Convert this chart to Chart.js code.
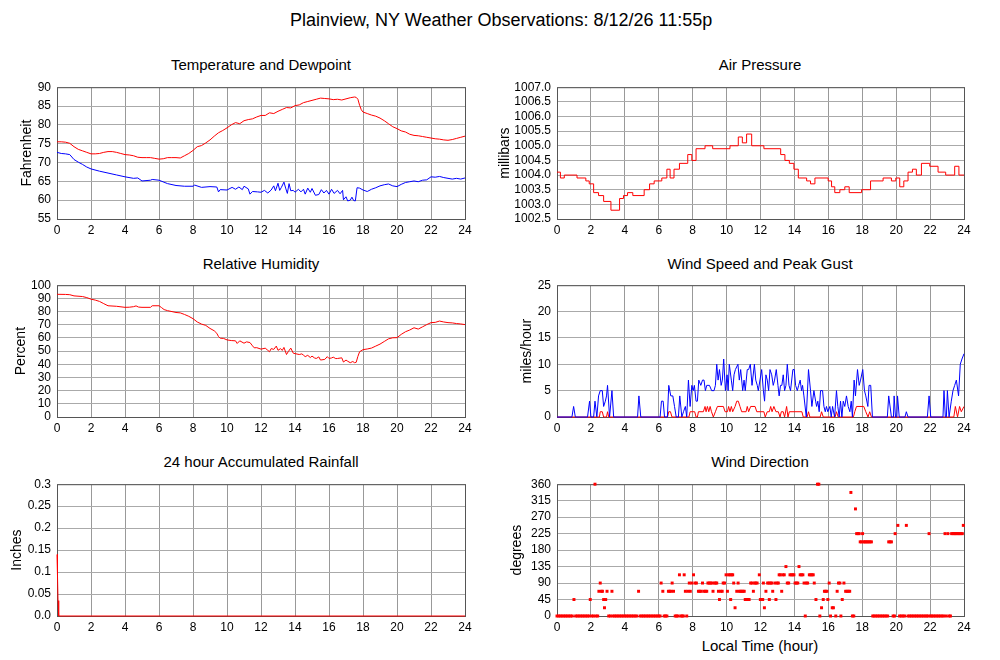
<!DOCTYPE html>
<html lang="en">
<head>
<meta charset="utf-8">
<title>Plainview, NY Weather Observations</title>
<script src="https://cdn.jsdelivr.net/npm/chart.js@4.4.1/dist/chart.umd.min.js"></script>
<style>
  body { margin: 0; background: #fff; font-family: 'Liberation Sans', Arial, sans-serif; color: #000; }
  #page { position: relative; width: 1000px; height: 660px; }
  canvas { position: absolute; }
  .ttl { position: absolute; width: 420px; text-align: center; font-size: 15px; line-height: 20px; white-space: nowrap; }
</style>
</head>
<body>
<div id="page">
  <div class="ttl" style="left:290px; width:420px; top:9px; font-size:18px; line-height:22px;">Plainview, NY Weather Observations: 8/12/26 11:55p</div>

  <div class="ttl" style="left:51px; top:55px;">Temperature and Dewpoint</div>
  <div class="ttl" style="left:550px; top:55px;">Air Pressure</div>
  <div class="ttl" style="left:51px; top:254px;">Relative Humidity</div>
  <div class="ttl" style="left:550px; top:254px;">Wind Speed and Peak Gust</div>
  <div class="ttl" style="left:51px; top:452px;">24 hour Accumulated Rainfall</div>
  <div class="ttl" style="left:550px; top:452px;">Wind Direction</div>
  <div class="ttl" style="left:550px; top:636px;">Local Time (hour)</div>

  <canvas id="temp" width="485" height="170" style="left:0; top:74px;"></canvas>
  <canvas id="pres" width="494" height="170" style="left:490px; top:74px;"></canvas>
  <canvas id="humid" width="485" height="170" style="left:0; top:272px;"></canvas>
  <canvas id="wind" width="494" height="170" style="left:490px; top:272px;"></canvas>
  <canvas id="rain" width="485" height="170" style="left:0; top:471px;"></canvas>
  <canvas id="dir" width="494" height="170" style="left:490px; top:471px;"></canvas>
</div>

<script>
// values, [hour, value]
var hourTicks = [0, 2, 4, 6, 8, 10, 12, 14, 16, 18, 20, 22, 24];

var temperature = [[0,75.5],[0.25,75.5],[0.5,75.4],[0.75,75.1],[1,74.2],[1.25,73.5],[1.5,73.1],[1.75,72.7],[2,72.3],[2.25,72.3],[2.5,72.4],[2.75,72.7],[3,72.9],[3.25,72.9],[3.5,72.7],[3.75,72.4],[4,72.1],[4.25,72],[4.5,71.8],[4.75,71.4],[5,71.3],[5.25,71.3],[5.5,71.3],[5.75,71.1],[6,70.9],[6.25,71],[6.5,71.3],[6.75,71.3],[7,71.3],[7.25,71.2],[7.5,71.8],[7.75,72.4],[8,73.2],[8.25,74.2],[8.5,74.5],[8.75,75.2],[9,76],[9.25,77],[9.5,77.9],[9.75,78.5],[10,79.2],[10.25,80],[10.5,80.6],[10.75,80.3],[11,81.1],[11.25,81.4],[11.5,81.6],[11.75,82.1],[12,82.5],[12.25,82.5],[12.5,83.2],[12.75,83],[13,83.6],[13.25,84.1],[13.5,84.6],[13.75,84.5],[14,85.1],[14.25,85.3],[14.5,85.9],[14.75,86.2],[15,86.5],[15.25,86.8],[15.5,87.1],[15.75,87],[16,86.9],[16.25,86.7],[16.5,86.8],[16.75,86.6],[17,86.9],[17.25,87.2],[17.5,87.4],[17.6,87.3],[17.7,86.8],[17.8,85.2],[17.9,84],[18,83.4],[18.25,83],[18.5,82.6],[18.75,82.3],[19,81.8],[19.25,81.1],[19.5,80.3],[19.75,79.5],[20,79],[20.25,78.4],[20.5,78.1],[20.75,77.5],[21,77.2],[21.25,77.1],[21.5,76.9],[21.75,76.7],[22,76.5],[22.25,76.3],[22.5,76.2],[22.75,76],[23,75.9],[23.25,76.1],[23.5,76.4],[23.75,76.7],[24,77]];

var dewpoint = [[0,72.7],[0.25,72.4],[0.5,72.3],[0.75,72.1],[1,70.8],[1.25,70.1],[1.5,69.5],[1.75,68.8],[2,68.3],[2.5,67.7],[3,67.2],[3.5,66.7],[4,66.2],[4.5,65.8],[4.75,65.9],[5,65.1],[5.5,65.3],[5.6,65.5],[6,65.3],[6.5,64.4],[7,63.9],[7.5,63.7],[8,63.7],[8.1,64],[8.5,63.4],[9,63.6],[9.4,63.5],[9.5,62.2],[9.6,62.8],[10,62.7],[10.3,63.4],[10.5,62.9],[10.7,63.5],[10.9,62.8],[11,63.7],[11.25,63],[11.35,61.6],[11.5,62.3],[11.8,62.2],[12,62.1],[12.2,62.6],[12.4,61.9],[12.6,62.7],[12.75,63.8],[12.85,62.5],[13,64.5],[13.1,62.6],[13.2,63.4],[13.35,64.8],[13.45,63.2],[13.55,61.8],[13.65,64.4],[13.75,62.5],[13.9,62.6],[14,62.1],[14.2,62.9],[14.35,62.2],[14.5,62.9],[14.6,61.6],[14.75,63.2],[14.9,62.1],[15,63.1],[15.2,61.3],[15.4,61.5],[15.55,62.8],[15.7,61.9],[15.85,62.6],[16,61.6],[16.15,62.9],[16.3,61.8],[16.5,62.6],[16.65,61.7],[16.8,62.6],[16.85,60.1],[17,60.9],[17.1,59.8],[17.25,60],[17.35,60.8],[17.45,59.9],[17.55,59.8],[17.65,63.3],[17.8,63.2],[18,62.7],[18.25,62.3],[18.5,62.9],[18.75,63.3],[19,63.8],[19.25,64.1],[19.5,64.3],[19.75,63.8],[20,63.6],[20.25,64.2],[20.5,64.7],[20.75,64.9],[21,65.1],[21.25,64.9],[21.5,65.3],[21.75,65.4],[22,66.2],[22.25,66.1],[22.5,66.3],[22.75,66],[23,65.8],[23.25,65.6],[23.5,65.8],[23.75,65.6],[24,65.9]];

// pressure steps: [start hour, millibars]
var pressure = [[0,1004.1],[0.2,1003.9],[0.43,1004.0],[1.18,1003.9],[1.7,1003.8],[1.9,1003.7],[2.16,1003.4],[2.45,1003.3],[2.75,1003.1],[3.18,1002.8],[3.69,1003.2],[3.92,1003.3],[4.16,1003.4],[4.47,1003.3],[5.14,1003.5],[5.46,1003.7],[5.73,1003.8],[6.18,1003.9],[6.48,1004.2],[6.67,1003.9],[6.9,1004.2],[7.22,1004.4],[7.71,1004.7],[7.95,1004.5],[8.2,1004.9],[8.73,1005.0],[9.18,1004.9],[10.2,1005.0],[10.69,1005.3],[10.93,1005.1],[11.18,1005.4],[11.48,1005.0],[12.2,1004.9],[13.19,1004.7],[13.44,1004.5],[13.7,1004.4],[13.97,1004.2],[14.23,1003.9],[14.72,1003.8],[14.95,1003.7],[15.21,1003.9],[15.99,1003.8],[16.19,1003.6],[16.38,1003.4],[16.68,1003.5],[16.97,1003.6],[17.23,1003.4],[17.96,1003.5],[18.49,1003.8],[19.23,1003.9],[19.72,1003.8],[19.98,1003.9],[20.21,1003.6],[20.45,1003.8],[20.7,1004.1],[20.96,1004.2],[21.19,1004.0],[21.49,1004.4],[21.98,1004.3],[22.47,1004.1],[22.92,1004.0],[23.45,1004.3],[23.7,1004.0],[24,1004.0]];

var humidity = [[0,93.1],[0.5,93],[0.75,92.8],[1,91.9],[1.5,91.4],[1.75,90.6],[2,89.4],[2.25,88.7],[2.5,87.7],[2.75,86],[3,84.4],[3.5,84],[4,83.2],[4.25,83.3],[4.5,83.7],[4.65,84.3],[4.8,83.4],[5,83.2],[5.5,83.2],[5.6,84.4],[6,84.4],[6.15,83],[6.3,81.5],[6.5,80.7],[7,79.3],[7.25,79],[7.5,77.8],[7.75,76.4],[8,74.6],[8.25,72.1],[8.5,70.5],[8.75,69.5],[9,67.2],[9.25,65.4],[9.4,63.5],[9.5,61],[9.6,59.8],[9.8,59.6],[10,58.5],[10.25,58],[10.5,57.8],[10.6,55.8],[10.75,57.8],[11,56],[11.15,57],[11.35,56.5],[11.5,54],[11.6,52.5],[11.75,52.6],[12,51.5],[12.25,52.2],[12.4,50.6],[12.5,49.5],[12.6,51.9],[12.75,51.3],[12.9,53.8],[13,50.6],[13.15,51.9],[13.25,50.5],[13.35,52.8],[13.5,47.4],[13.6,49.5],[13.75,52.3],[13.9,48.4],[14,48.1],[14.25,47.4],[14.4,47.9],[14.5,46.9],[14.6,45.8],[14.75,46.8],[14.9,45.1],[15,46.2],[15.15,44.8],[15.25,44.4],[15.4,45.6],[15.5,43.2],[15.75,43.7],[15.9,45.8],[16,44.4],[16.15,44.8],[16.25,45.4],[16.4,44.3],[16.5,44.4],[16.75,44.9],[16.85,41.7],[17,43.2],[17.1,42.3],[17.25,41.2],[17.4,42.1],[17.5,41.2],[17.6,41.5],[17.7,46],[17.8,49.5],[18,51.1],[18.25,51.6],[18.5,52.3],[18.75,53.8],[19,55.3],[19.25,57.3],[19.5,59.3],[19.75,60.1],[20,60.2],[20.25,62.7],[20.5,64.7],[20.75,66],[21,67.7],[21.25,66.7],[21.5,68.4],[21.75,70.1],[22,71.6],[22.25,71.8],[22.5,72.8],[22.75,72.1],[23,71.6],[23.25,71.4],[23.5,70.9],[23.75,70.6],[24,70.1]];

var windSpeed = [[0,0],[0.88,0],[0.98,2],[1.08,0],[1.8,0],[1.92,3],[2.0,0],[2.16,0],[2.24,3],[2.35,0],[2.45,4],[2.55,5],[2.67,5],[2.75,2],[2.85,3],[2.92,4],[2.98,6],[3.1,0],[3.24,5],[3.34,0],[4.75,0],[4.83,4],[4.94,0],[6.08,0],[6.16,3],[6.26,3],[6.34,0],[6.51,0],[6.59,6],[6.71,4],[6.83,4],[6.93,2],[7.03,0],[7.16,0],[7.24,4],[7.36,0],[7.46,1],[7.57,2],[7.65,0],[7.75,7],[7.85,2],[7.95,6],[8.03,5],[8.1,6],[8.2,3],[8.28,3],[8.36,7],[8.48,6],[8.58,7],[8.67,7],[8.75,5],[8.83,6],[8.99,6],[9.12,5],[9.26,5],[9.34,6],[9.42,10],[9.5,7],[9.58,9],[9.68,6],[9.75,7],[9.83,11],[9.93,5],[10.03,8],[10.09,5],[10.16,10],[10.28,7],[10.36,5],[10.44,8],[10.52,9],[10.67,10],[10.75,7],[10.83,9],[10.95,5],[11.03,7],[11.1,5],[11.22,9],[11.3,9],[11.4,10],[11.5,6],[11.64,10],[11.72,7],[11.81,6],[11.87,5],[12.07,9],[12.17,5],[12.24,3],[12.32,8],[12.4,7],[12.48,5],[12.56,9],[12.66,8],[12.75,6],[12.83,7],[12.93,9],[13.03,6],[13.1,4],[13.18,6],[13.26,6],[13.34,8],[13.42,5],[13.5,6],[13.58,10],[13.68,6],[13.77,5],[13.91,9],[13.99,9],[14.07,6],[14.17,5],[14.25,6],[14.34,7],[14.42,5],[14.48,6],[14.56,4],[14.7,0],[14.83,9],[14.95,5],[15.03,2],[15.15,5],[15.25,3],[15.31,2],[15.38,3],[15.46,1],[15.54,5],[15.66,5],[15.74,2],[15.82,1],[15.89,2],[15.97,1],[16.09,2],[16.17,0],[16.25,2],[16.37,0],[16.48,5],[16.56,2],[16.64,0],[16.72,3],[16.8,0],[16.88,3],[16.97,2],[17.07,4],[17.17,2],[17.27,1],[17.35,3],[17.42,0],[17.52,7],[17.6,4],[17.72,9],[17.82,6],[17.9,7],[18.03,9],[18.13,5],[18.21,4],[18.33,2],[18.4,6],[18.5,6],[18.6,0],[19.48,0],[19.56,4],[19.72,0],[19.84,0],[19.88,4],[19.96,0],[20.04,0],[20.08,4],[20.18,0],[20.52,0],[20.6,1],[20.7,0],[21.84,0],[21.94,4],[22.04,0],[22.76,0],[22.82,5],[22.9,0],[22.96,0],[23.02,5],[23.12,0],[23.25,3],[23.35,5],[23.45,6],[23.55,7],[23.68,4],[23.78,10],[23.88,11],[24,12]];

var windGust = [[0,0],[2.5,0],[2.55,1],[2.67,1],[2.75,0],[2.92,0],[2.98,1],[3.05,0],[6.52,0],[6.59,1],[6.69,1],[6.78,0],[7.78,0],[7.85,1],[8.12,1],[8.2,0],[8.28,0],[8.34,1],[8.63,1],[8.73,2],[8.79,1],[8.87,2],[8.95,1],[9.03,2],[9.11,1],[9.22,0],[9.34,1],[9.46,2],[9.81,2],[9.91,1],[10.05,1],[10.12,2],[10.2,1],[10.28,2],[10.36,1],[10.5,2],[10.6,3],[10.69,3],[10.79,2],[10.89,1],[11.15,1],[11.22,2],[11.3,1],[11.42,2],[11.68,2],[11.78,1],[12.2,1],[12.28,0],[12.4,1],[12.52,1],[12.6,2],[12.68,1],[12.79,2],[12.91,1],[13.05,1],[13.15,0],[13.23,1],[13.34,1],[13.42,0],[13.54,2],[13.62,0],[13.7,1],[14.44,1],[14.52,0],[14.75,0],[14.83,1],[14.91,0],[15.52,0],[15.6,1],[15.7,0],[16.4,0],[16.48,1],[16.58,0],[17.48,0],[17.56,1],[17.66,2],[18.09,2],[18.21,1],[18.34,0],[18.44,1],[18.54,0],[23.4,0],[23.49,2],[23.62,0],[23.74,2],[23.84,1],[24,2]];

var rainfall = [[0,0.14],[0.03,0.09],[0.06,0.035],[0.1,0],[24,0]];

var windDir = [[0,0],[0.1,0],[0.2,0],[0.3,0],[0.4,0],[0.5,0],[0.6,0],[0.7,0],[0.8,0],[0.9,0],[1.0,45],[1.1,0],[1.2,0],[1.3,0],[1.4,0],[1.5,0],[1.6,0],[1.7,0],[1.8,0],[1.9,0],[1.96,45],[2.05,0],[2.15,0],[2.24,360],[2.3,0],[2.4,0],
[2.47,67.5],[2.55,90],[2.62,67.5],[2.68,67.5],[2.75,45],[2.8,22.5],[2.87,45],[2.95,67.5],[3.05,0],[3.15,0],[3.24,67.5],[3.3,0],[3.4,0],[3.5,0],[3.6,0],[3.7,0],[3.8,0],[3.9,0],[4.0,0],[4.1,0],[4.2,0],[4.3,0],[4.4,0],[4.5,0],[4.6,0],[4.7,0],[4.81,67.5],
[4.9,0],[5.0,0],[5.1,0],[5.2,0],[5.3,0],[5.4,0],[5.5,0],[5.6,0],[5.7,0],[5.8,0],[5.9,0],[6.0,0],[6.08,0],[6.14,90],[6.24,67.5],[6.32,0],[6.4,0],[6.48,0],
[6.57,67.5],[6.65,67.5],[6.72,67.5],[6.79,90],[6.87,67.5],[6.97,0],[7.05,0],[7.13,0],[7.22,112.5],[7.3,0],[7.38,0],[7.45,0],[7.5,112.5],[7.57,67.5],[7.65,0],[7.72,67.5],[7.8,90],[7.86,67.5],[7.95,90],[8.05,112.5],[8.14,90],[8.22,90],
[8.34,67.5],[8.42,67.5],[8.5,67.5],[8.58,90],[8.66,67.5],[8.75,67.5],[8.83,67.5],[8.9,90],[8.98,90],[9.06,90],[9.14,90],[9.2,67.5],[9.28,90],[9.36,90],[9.42,90],
[9.52,67.5],[9.58,45],[9.66,67.5],[9.74,67.5],[9.8,90],[9.88,90],[9.97,112.5],[10.05,67.5],[10.12,112.5],[10.2,112.5],[10.24,45],[10.3,112.5],[10.36,112.5],[10.42,90],[10.5,22.5],
[10.6,67.5],[10.68,90],[10.75,67.5],[10.83,67.5],[10.9,67.5],[10.97,67.5],[11.04,67.5],[11.1,45],[11.18,45],[11.25,45],[11.33,45],
[11.42,90],[11.5,90],[11.58,67.5],[11.65,90],[11.72,90],[11.8,90],[11.93,112.5],[11.99,45],[12.06,45],[12.13,45],[12.17,90],[12.23,22.5],[12.32,67.5],[12.42,90],[12.5,90],[12.52,45],[12.6,90],[12.66,90],[12.72,67.5],[12.85,90],[12.91,45],[12.98,90],[13.05,90],
[13.1,112.5],[13.17,112.5],[13.25,67.5],[13.32,112.5],[13.4,112.5],[13.5,135],[13.58,90],[13.66,90],[13.74,112.5],[13.82,112.5],[13.9,112.5],[13.97,112.5],[14.04,90],[14.12,90],[14.2,90],[14.27,135],[14.34,112.5],[14.42,112.5],[14.5,112.5],[14.57,90],[14.64,0],[14.7,90],[14.78,90],
[14.88,112.5],[14.96,112.5],[15.04,112.5],[15.11,112.5],[15.17,90],[15.27,45],[15.36,360],[15.44,360],[15.5,0],[15.6,22.5],[15.7,45],[15.77,67.5],[15.84,67.5],[15.92,67.5],[15.97,45],[16.05,90],[16.13,0],[16.23,22.5],[16.3,22.5],[16.44,0],[16.52,67.5],[16.6,90],[16.68,90],[16.74,0],[16.82,45],[16.92,90],
[17.02,67.5],[17.1,67.5],[17.18,67.5],[17.26,67.5],[17.33,337.5],[17.42,0],[17.5,0],[17.6,292.5],[17.67,225],[17.75,225],[17.82,225],[17.88,202.5],[17.95,202.5],[18.02,225],[18.08,202.5],[18.15,202.5],[18.22,202.5],[18.3,202.5],[18.38,202.5],[18.46,202.5],[18.54,202.5],
[18.62,0],[18.7,0],[18.8,0],[18.9,0],[19.0,0],[19.1,0],[19.2,0],[19.3,0],[19.4,0],[19.5,0],[19.56,202.5],[19.64,202.5],[19.72,202.5],[19.82,0],[19.9,0],[19.94,225],[20.1,247.5],[20.2,0],[20.3,0],[20.4,0],[20.5,0],[20.6,247.5],
[20.7,0],[20.8,0],[20.9,0],[21.0,0],[21.1,0],[21.2,0],[21.3,0],[21.4,0],[21.5,0],[21.6,0],[21.7,0],[21.8,0],[21.88,0],[21.94,225],[22.02,0],[22.1,0],[22.2,0],[22.3,0],[22.4,0],[22.5,0],[22.6,0],[22.7,0],[22.8,0],[22.88,225],[22.95,0],[23.05,225],[23.12,0],[23.2,0],
[23.27,225],[23.35,225],[23.43,225],[23.5,225],[23.58,225],[23.66,225],[23.74,225],[23.82,225],[23.9,225],[23.96,247.5]];

Chart.defaults.font.family = "'Liberation Sans', Arial, Helvetica, sans-serif";
Chart.defaults.font.size = 12;
Chart.defaults.color = '#000';

// frame round the plot area, drawn under the data
var framePlugin = {
  id: 'frame',
  beforeDatasetsDraw: function(chart) {
    var a = chart.chartArea, c = chart.ctx;
    c.save();
    c.strokeStyle = '#555';
    c.lineWidth = 1;
    c.strokeRect(a.left + 0.5, a.top + 0.5, a.right - a.left, a.bottom - a.top);
    c.restore();
  }
};

function lineSet(data, color, stepped) {
  return { data: data, borderColor: color, backgroundColor: color, borderWidth: 1,
           pointRadius: 0, fill: false, tension: 0, stepped: stepped || false, clip: 2 };
}

function makePanel(id, type, datasets, yaxis, axisWidth, titleText, titlePad) {
  var y = {
    min: yaxis.min, max: yaxis.max,
    afterFit: function(s) { s.width = axisWidth; },
    grid: { color: '#aaa', drawTicks: false },
    border: { display: false },
    ticks: { stepSize: yaxis.step, padding: 6, autoSkip: false, callback: yaxis.fmt },
    title: { display: true, text: titleText, font: { size: 14 }, padding: { top: titlePad, bottom: 0 } }
  };
  new Chart(document.getElementById(id), {
    type: type,
    data: { datasets: datasets },
    options: {
      responsive: false, animation: false, events: [],
      layout: { padding: { left: 0, right: 20, top: 10, bottom: 0 } },
      plugins: { legend: { display: false }, tooltip: { enabled: false } },
      scales: {
        x: {
          type: 'linear', min: 0, max: 24,
          afterFit: function(s) { s.height = 25; },
          afterBuildTicks: function(s) { s.ticks = hourTicks.map(function(v) { return { value: v }; }); },
          grid: { color: '#999', drawTicks: false },
          border: { display: false },
          ticks: { padding: 4, autoSkip: false, maxRotation: 0 }
        },
        y: y
      }
    },
    plugins: [framePlugin]
  });
}

makePanel('temp', 'line',
  [lineSet(temperature, '#ff0000'), lineSet(dewpoint, '#0000ff')],
  { min: 55, max: 90, step: 5 }, 57, 'Fahrenheit', 18.6);

makePanel('pres', 'line',
  [lineSet(pressure, '#ff0000', true)],
  { min: 1002.5, max: 1007, step: 0.5, fmt: function(v) { return v.toFixed(1); } }, 67, 'millibars', 6.6);

makePanel('humid', 'line',
  [lineSet(humidity, '#ff0000')],
  { min: 0, max: 100, step: 10 }, 57, 'Percent', 12.6);

makePanel('wind', 'line',
  [lineSet(windSpeed, '#0000ff'), lineSet(windGust, '#ff0000')],
  { min: 0, max: 25, step: 5 }, 67, 'miles/hour', 28.6);

makePanel('rain', 'line',
  [lineSet(rainfall, '#ff0000')],
  { min: 0, max: 0.3, step: 0.05, fmt: function(v) { return v === 0 ? '0.0' : String(+v.toFixed(2)); } }, 57, 'Inches', 8.6);

makePanel('dir', 'scatter',
  [{ data: windDir, showLine: false, pointStyle: 'rect', pointRadius: 2.1, pointBorderWidth: 0,
     pointBackgroundColor: '#ff0000', backgroundColor: '#ff0000', clip: false }],
  { min: 0, max: 360, step: 45 }, 67, 'degrees', 18.6);
</script>
</body>
</html>
